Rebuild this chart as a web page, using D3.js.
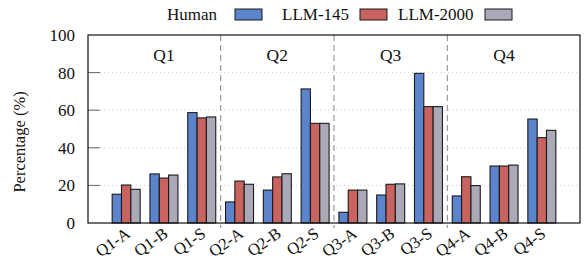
<!DOCTYPE html>
<html><head><meta charset="utf-8">
<style>
html,body{margin:0;background:#fff}
svg text{font-family:"Liberation Serif","Times New Roman",serif}
</style>
<script src="https://cdn.jsdelivr.net/npm/d3@7"></script>
</head><body><svg id="c" width="585" height="268" style="display:block" font-family="Liberation Serif"></svg>
<script>
const categories = ["Q1-A","Q1-B","Q1-S","Q2-A","Q2-B","Q2-S","Q3-A","Q3-B","Q3-S","Q4-A","Q4-B","Q4-S"];
const seriesNames = ["Human","LLM-145","LLM-2000"];
const human   = [15.3, 26.1, 58.7, 11.2, 17.5, 71.3, 5.7, 14.9, 79.6, 14.4, 30.3, 55.3];
const llm145  = [20.2, 23.9, 55.9, 22.3, 24.5, 53.0, 17.5, 20.6, 61.9, 24.6, 30.3, 45.4];
const llm2000 = [17.9, 25.5, 56.4, 20.6, 26.2, 53.0, 17.5, 20.8, 61.9, 19.9, 30.8, 49.3];
const quarters = ["Q1","Q2","Q3","Q4"];
const yTicks = [0,20,40,60,80,100];
const colors = ["#5b84cd","#c9635f","#a9a9b8"];
const FONT = "Liberation Serif";

const W=585,H=268, m={l:88,r:5,t:35,b:45};
const svg=d3.select("#c");
const x=d3.scaleBand().domain(categories).range([m.l,W-m.r]).paddingInner(0).paddingOuter(0.51);
const y=d3.scaleLinear().domain([0,100]).range([H-m.b,m.t]);
const gw=28;
const xs=d3.scaleBand().domain(seriesNames).range([(x.bandwidth()-gw)/2,(x.bandwidth()+gw)/2]).padding(0);
const seriesData=[human,llm145,llm2000];

function txt(sel,size){ return sel.attr("font-family",FONT).attr("font-size",size).attr("fill","#111"); }

// grid
svg.append("g").selectAll("line").data(yTicks.filter(t=>t>0&&t<100)).join("line")
  .attr("x1",m.l).attr("x2",W-m.r).attr("y1",d=>y(d)).attr("y2",d=>y(d))
  .attr("stroke","#d0d0d0").attr("stroke-dasharray","1,3").attr("stroke-width",1);
// inner ticks
svg.append("g").selectAll("line").data(yTicks.filter(t=>t>0&&t<100)).join("line")
  .attr("x1",m.l).attr("x2",m.l+12).attr("y1",d=>y(d)).attr("y2",d=>y(d))
  .attr("stroke","#666").attr("stroke-width",1);

// dashed separators
const sepX=[3,6,9].map(i=>x(categories[i]));
svg.append("g").selectAll("line").data(sepX).join("line")
  .attr("x1",d=>d).attr("x2",d=>d).attr("y1",m.t).attr("y2",H-m.b+5)
  .attr("stroke","#999").attr("stroke-width",1.2).attr("stroke-dasharray","6,4");

// bars
seriesNames.forEach((s,si)=>{
  svg.append("g").selectAll("rect").data(seriesData[si]).join("rect")
    .attr("x",(d,i)=>x(categories[i])+xs(s)).attr("width",xs.bandwidth())
    .attr("y",d=>y(d)).attr("height",d=>y(0)-y(d))
    .attr("fill",colors[si]).attr("stroke","#1a1a1a").attr("stroke-width",1.1);
});

// frame
svg.append("rect").attr("x",m.l).attr("y",m.t).attr("width",W-m.r-m.l).attr("height",H-m.b-m.t)
  .attr("fill","none").attr("stroke","#111").attr("stroke-width",1.2);

// y labels
txt(svg.append("g").selectAll("text").data(yTicks).join("text")
  .attr("x",75).attr("y",d=>y(d)+6),17).attr("text-anchor","end").text(d=>d);
txt(svg.append("text").attr("transform","translate(25,142) rotate(-90)").attr("text-anchor","middle"),16.5)
  .text("Percentage (%)");

// quarter labels
txt(svg.append("g").selectAll("text").data(quarters).join("text")
  .attr("x",(d,i)=>x(categories[i*3+1])+x.bandwidth()/2).attr("y",61)
  .attr("text-anchor","middle"),17.5).text(d=>d);

// x labels
txt(svg.append("g").selectAll("text").data(categories).join("text")
  .attr("transform",d=>`translate(${x(d)+x.bandwidth()/2+5},236) rotate(-35)`)
  .attr("text-anchor","end"),16.5).text(d=>d);

// legend
const leg=[{tx:167,bx:235},{tx:282,bx:360},{tx:398,bx:485}];
seriesNames.forEach((s,i)=>{
  txt(svg.append("text").attr("x",leg[i].tx).attr("y",20),17).text(s);
  svg.append("rect").attr("x",leg[i].bx).attr("y",9).attr("width",27).attr("height",11)
    .attr("fill",colors[i]).attr("stroke","#1a1a1a").attr("stroke-width",1);
});
</script></body></html>
